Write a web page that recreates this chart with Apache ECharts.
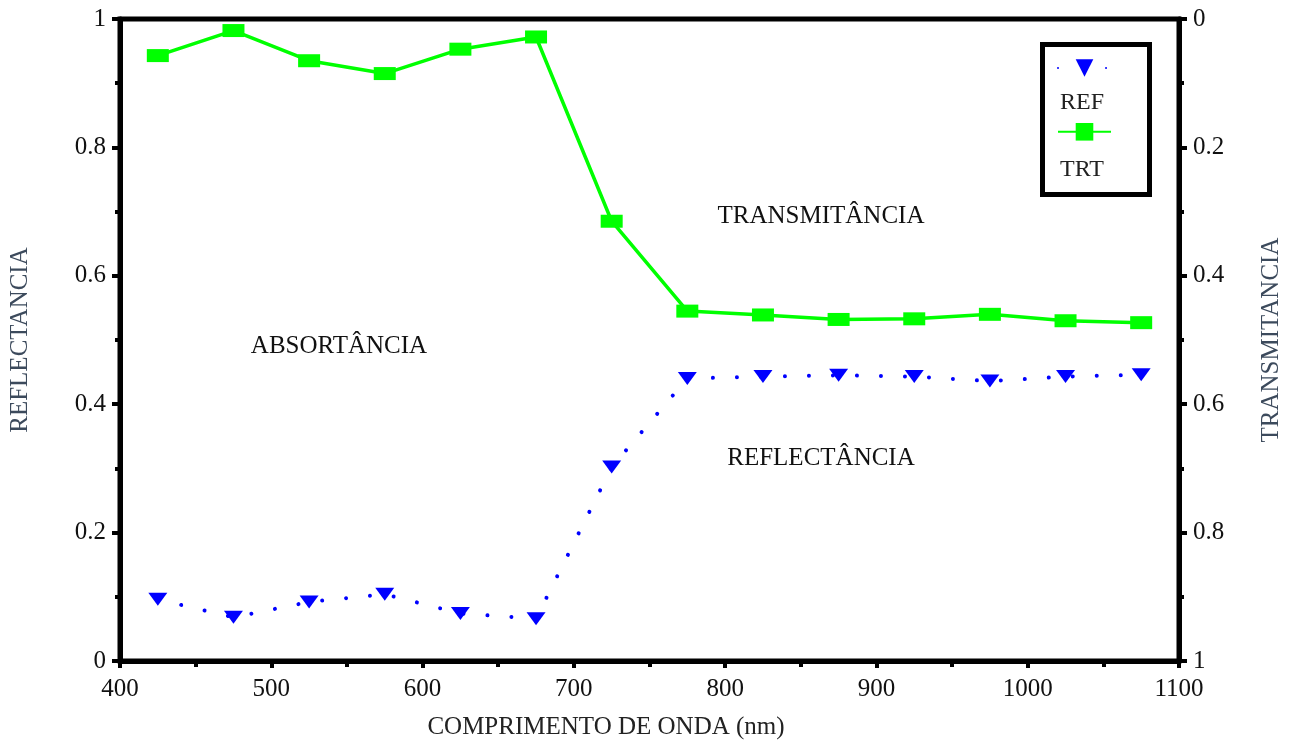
<!DOCTYPE html>
<html>
<head>
<meta charset="utf-8">
<script src="https://cdn.jsdelivr.net/npm/echarts@6/dist/echarts.min.js"></script>
<style>
html,body{margin:0;padding:0;background:#fff;}
#chart{width:1292px;height:743px;}
</style>
</head>
<body>
<div id="chart"></div>
<script>
// Data
var wavelengths = [425, 475, 525, 575, 625, 675, 725, 775, 825, 875, 925, 975, 1025, 1075];
var refValues = [0.096, 0.068, 0.092, 0.104, 0.074, 0.066, 0.302, 0.440, 0.443, 0.445, 0.443, 0.436, 0.443, 0.446];
var trtValues = [0.057, 0.018, 0.065, 0.085, 0.047, 0.028, 0.315, 0.455, 0.461, 0.468, 0.467, 0.460, 0.470, 0.473];
var seriesNames = ['REF', 'TRT'];
var xAxisTitle = 'COMPRIMENTO DE ONDA (nm)';
var leftAxisTitle = 'REFLECTANCIA';
var rightAxisTitle = 'TRANSMITANCIA';
var regionLabels = ['ABSORTÂNCIA', 'TRANSMITÂNCIA', 'REFLECTÂNCIA'];

function pairs(xs, ys) { return xs.map(function (x, i) { return [x, ys[i]]; }); }

var FONT = '"Liberation Serif", "Times New Roman", serif';
var chart = echarts.init(document.getElementById('chart'), null, {renderer: 'canvas'});

var option = {
  backgroundColor: '#fff',
  animation: false,
  grid: {
    left: 120, right: 103, top: 19, bottom: 82,
    show: true, borderColor: '#000', borderWidth: 5, backgroundColor: 'transparent'
  },
  legend: {
    data: seriesNames,
    orient: 'vertical',
    left: 1057, top: 57,
    padding: 0,
    itemWidth: 53, itemHeight: 22,
    itemGap: 44,
    formatter: function () { return ''; },
    selectedMode: false
  },
  xAxis: {
    type: 'value', min: 400, max: 1100, interval: 100,
    axisLine: {show: true, lineStyle: {color: '#000', width: 5}},
    axisTick: {show: true, inside: false, length: 7, lineStyle: {color: '#000', width: 4}},
    minorTick: {show: true, splitNumber: 2, length: 6, lineStyle: {color: '#000', width: 4}},
    splitLine: {show: false},
    axisLabel: {fontFamily: FONT, fontSize: 25, color: '#111', margin: 16,
      formatter: function (v) { return String(v); }}
  },
  yAxis: [{
    type: 'value', min: 0, max: 1, interval: 0.2, position: 'left',
    name: leftAxisTitle, nameLocation: 'middle', nameGap: 87, nameRotate: 90,
    nameTextStyle: {fontFamily: FONT, fontSize: 25, color: '#3c4a5c'},
    axisLine: {show: true, lineStyle: {color: '#000', width: 5}},
    axisTick: {show: true, inside: false, length: 8, lineStyle: {color: '#000', width: 4}},
    minorTick: {show: true, splitNumber: 2, length: 5, lineStyle: {color: '#000', width: 4}},
    splitLine: {show: false},
    axisLabel: {fontFamily: FONT, fontSize: 25, color: '#111', margin: 14}
  }, {
    type: 'value', min: 0, max: 1, interval: 0.2, position: 'right', inverse: true,
    name: rightAxisTitle, nameLocation: 'middle', nameGap: 80, nameRotate: 90,
    nameTextStyle: {fontFamily: FONT, fontSize: 25, color: '#3c4a5c'},
    axisLine: {show: true, lineStyle: {color: '#000', width: 5}},
    axisTick: {show: true, inside: false, length: 8, lineStyle: {color: '#000', width: 4}},
    minorTick: {show: true, splitNumber: 2, length: 5, lineStyle: {color: '#000', width: 4}},
    splitLine: {show: false},
    axisLabel: {fontFamily: FONT, fontSize: 25, color: '#111', margin: 14}
  }],
  series: [{
    name: seriesNames[0], type: 'line', yAxisIndex: 0,
    data: pairs(wavelengths, refValues),
    symbol: 'triangle', symbolRotate: 180, symbolSize: [19, 13],
    itemStyle: {color: '#0000ff'},
    lineStyle: {color: '#0000ff', width: 4, type: [0.01, 24], cap: 'round'}
  }, {
    name: seriesNames[1], type: 'line', yAxisIndex: 1,
    data: pairs(wavelengths, trtValues),
    symbol: 'rect', symbolSize: [22, 13],
    itemStyle: {color: '#00ff00'},
    lineStyle: {color: '#00ff00', width: 3.5}
  }],
  graphic: [
    {type: 'rect', shape: {x: 1042.5, y: 44.5, width: 107, height: 150},
     style: {fill: 'none', stroke: '#000', lineWidth: 5}, z: 10},
    {type: 'text', left: 1060, top: 91, z: 11,
     style: {text: seriesNames[0], font: '24px ' + FONT, fill: '#222'}},
    {type: 'text', left: 1060, top: 158, z: 11,
     style: {text: seriesNames[1], font: '24px ' + FONT, fill: '#222'}},
    {type: 'text', x: 339, y: 346, z: 11,
     style: {text: regionLabels[0], font: '25px ' + FONT, fill: '#111', align: 'center', verticalAlign: 'middle'}},
    {type: 'text', x: 821, y: 216, z: 11,
     style: {text: regionLabels[1], font: '25px ' + FONT, fill: '#111', align: 'center', verticalAlign: 'middle'}},
    {type: 'text', x: 821, y: 458, z: 11,
     style: {text: regionLabels[2], font: '25px ' + FONT, fill: '#111', align: 'center', verticalAlign: 'middle'}},
    {type: 'text', x: 606, y: 727, z: 11,
     style: {text: xAxisTitle, font: '25px ' + FONT, fill: '#222', align: 'center', verticalAlign: 'middle'}}
  ]
};
chart.setOption(option);
</script>
</body>
</html>
